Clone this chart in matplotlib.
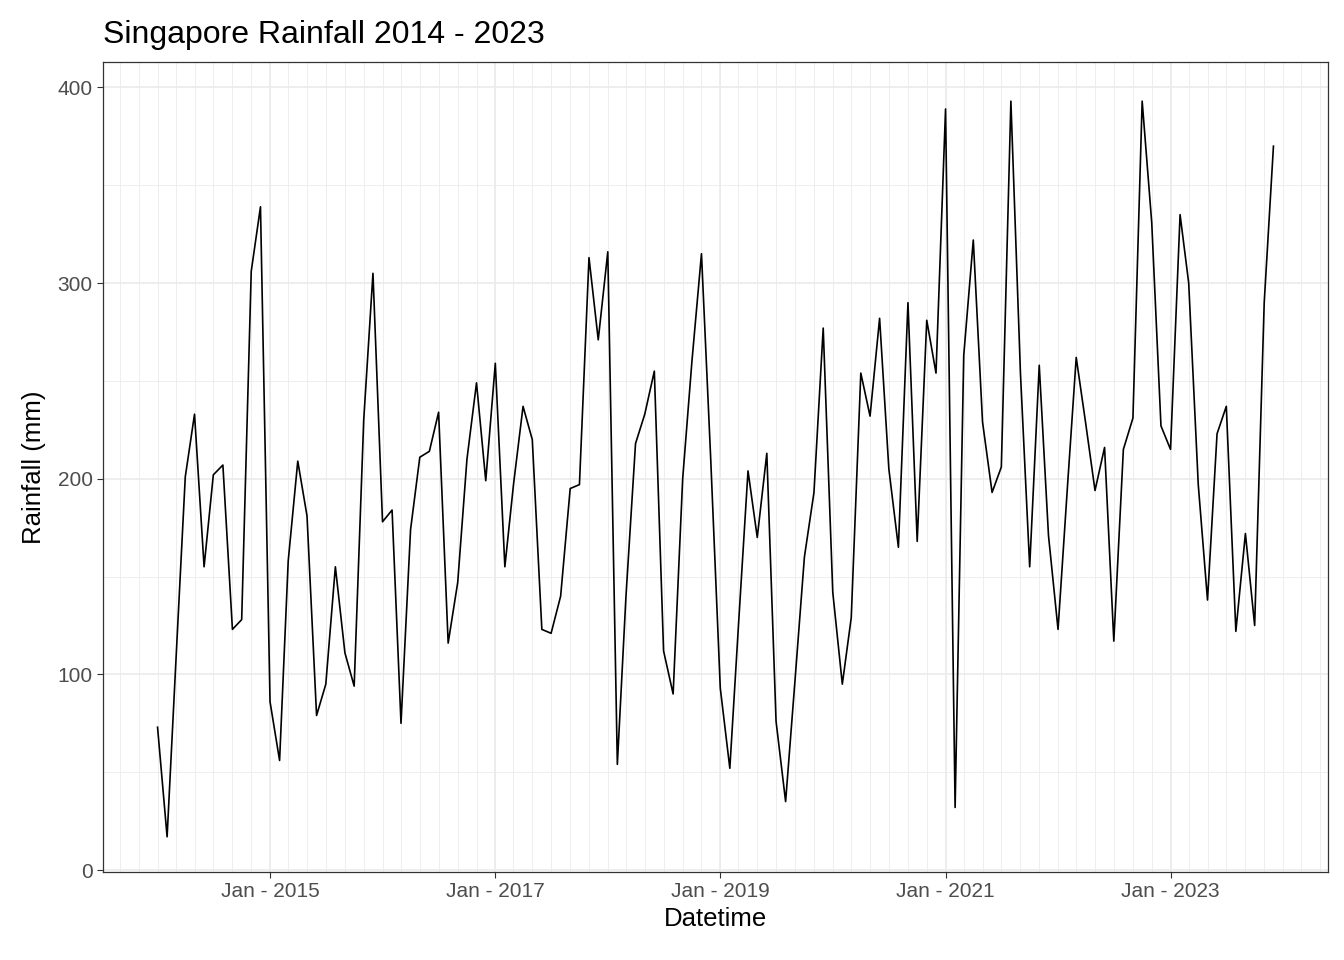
import numpy as np
import pandas as pd
import matplotlib
matplotlib.use("Agg")
import matplotlib.pyplot as plt
import matplotlib.dates as mdates

plt.rcParams['font.family'] = ['Liberation Sans', 'DejaVu Sans']

# monthly rainfall Jan 2014 .. Dec 2023 (mm)
rain = [
    73, 17, 105, 201, 233, 155, 202, 207, 123, 128, 306, 339,
    86, 56, 158, 209, 181, 79, 95, 155, 111, 94, 230, 305,
    178, 184, 75, 174, 211, 214, 234, 116, 147, 210, 249, 199,
    259, 155, 197, 237, 220, 123, 121, 140, 195, 197, 313, 271,
    316, 54, 140, 218, 233, 255, 112, 90, 200, 260, 315, 210,
    93, 52, 125, 204, 170, 213, 76, 35, 98, 160, 193, 277,
    142, 95, 129, 254, 232, 282, 205, 165, 290, 168, 281, 254,
    389, 32, 263, 322, 229, 193, 206, 393, 254, 155, 258, 171,
    123, 197, 262, 228, 194, 216, 117, 215, 231, 393, 331, 227,
    215, 335, 300, 197, 138, 223, 237, 122, 172, 125, 290, 370,
]
dates = pd.date_range("2014-01-01", periods=len(rain), freq="MS")
major_years = [2015, 2017, 2019, 2021, 2023]
tick_labels = ["Jan - %d" % y for y in major_years]

fig = plt.figure(figsize=(13.44, 9.6), dpi=100)
ax = fig.add_axes([103/1344, 1-872/960, (1328-103)/1344, (872-62)/960])

pad = pd.Timedelta(days=177)
ax.set_xlim(dates[0]-pad, dates[-1]+pad)
ax.set_ylim(-1, 413)

# grid (theme_bw style)
for d in pd.date_range("2013-07-01", "2024-07-01", freq="2MS"):
    ax.axvline(d, color="#ebebeb", lw=0.6, zorder=0)
for y in range(50, 413, 100):
    ax.axhline(y, color="#ebebeb", lw=0.6, zorder=0)
for y in range(0, 413, 100):
    ax.axhline(y, color="#ebebeb", lw=1.2, zorder=0)
for yr in major_years:
    ax.axvline(pd.Timestamp("%d-01-01" % yr), color="#ebebeb", lw=1.2, zorder=0)

ax.plot(dates, rain, color="black", lw=1.2, zorder=2)

ax.set_xticks([pd.Timestamp("%d-01-01" % y) for y in major_years])
ax.set_xticklabels(tick_labels)
ax.set_yticks([0, 100, 200, 300, 400])
ax.tick_params(colors="#333333", labelsize=15, length=4, width=0.8, labelcolor="#4d4d4d")
for s in ax.spines.values():
    s.set_color("#333333")
    s.set_linewidth(0.9)

ax.set_xlabel("Datetime", fontsize=18.5, labelpad=4)
ax.set_ylabel("Rainfall (mm)", fontsize=18.5, labelpad=8)
ax.set_title("Singapore Rainfall 2014 - 2023", fontsize=23, loc="left", x=0, pad=14)

fig.savefig("out.png", dpi=100)
